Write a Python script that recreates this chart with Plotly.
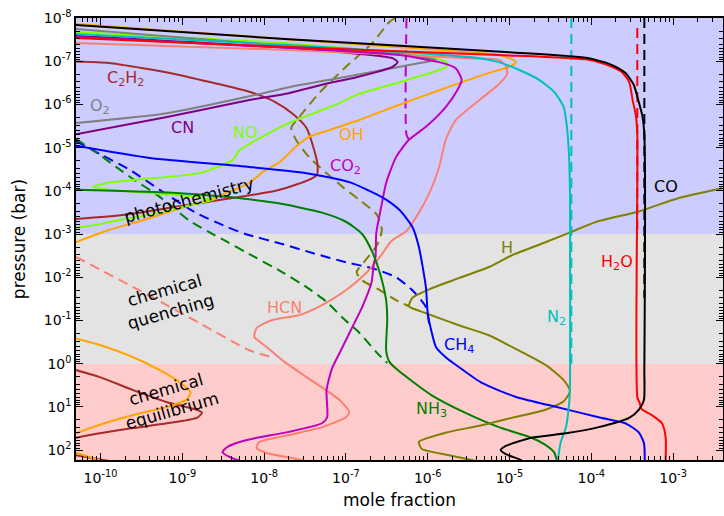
import numpy as np
import plotly.graph_objects as go

# ---------------- data (mole fraction, pressure in bar) ----------------
co_x = [5e-11, 2e-8, 1e-5, 9.3e-5, 1.8e-4, 2.6e-4, 3.3e-4, 3.8e-4, 4.2e-4, 4.45e-4, 4.45e-4,
        4.4e-4, 3.8e-4, 2.9e-4, 1.23e-4, 4.9e-5, 1.86e-5, 8.9e-6, 7.8e-6, 8.9e-6, 1.3e-5, 1.45e-5]
co_p = [1.45e-8, 3.1e-8, 6.2e-8, 8.5e-8, 1.23e-7, 1.86e-7, 3.5e-7, 8.7e-7, 1.8e-6, 5.1e-6, 1.41,
        6.9, 11.7, 18, 29.5, 41, 52, 81, 100, 123, 162, 180]
co_eq_x = [4.45e-4, 4.45e-4]
co_eq_p = [1e-8, 0.03]

h2o_x = [5e-11, 2e-8, 7.4e-6, 9.3e-5, 1.78e-4, 2.36e-4, 2.9e-4, 3.2e-4, 3.5e-4, 3.65e-4, 3.65e-4,
         3.9e-4, 4.1e-4, 5.5e-4, 7.3e-4, 8.1e-4, 8.1e-4]
h2o_p = [2.9e-8, 4.7e-8, 7.2e-8, 9.3e-8, 1.35e-7, 1.78e-7, 3.0e-7, 7.9e-7, 1.78e-6, 5.1e-6, 5.9,
         8.1, 11.2, 15.5, 24, 50, 180]
h2o_eq_x = [3.65e-4, 3.65e-4]
h2o_eq_p = [1.7e-8, 1e-3]

n2_x = [5e-11, 2e-8, 4.3e-6, 7.4e-6, 1.32e-5, 2.3e-5, 3.5e-5, 4.6e-5, 5.0e-5, 5.3e-5, 5.5e-5,
        5.5e-5, 5.5e-5, 5.4e-5, 4.9e-5, 4.2e-5, 3.9e-5]
n2_p = [2.35e-8, 4.2e-8, 8.5e-8, 1.05e-7, 1.6e-7, 2.7e-7, 5.1e-7, 1.15e-6, 3.0e-6, 1.15e-5, 1.6e-4,
        4e-3, 2.4, 6.9, 29.5, 69, 180]
n2_eq_x = [5.7e-5, 5.7e-5]
n2_eq_p = [1e-8, 1.0]

ch4_x = [5e-11, 4.0e-10, 6.6e-9, 3.3e-8, 1.1e-7, 2.75e-7, 4.5e-7, 6.5e-7, 7.8e-7, 9.5e-7, 1.0e-6,
         1.1e-6, 1.26e-6, 1.66e-6, 2.4e-6, 4.6e-6, 1.2e-5, 3.0e-5, 1.23e-4, 2.6e-4, 3.8e-4, 4.4e-4, 4.5e-4]
ch4_p = [9.1e-6, 1.74e-5, 2.8e-5, 3.9e-5, 6.3e-5, 1.4e-4, 2.75e-4, 6.9e-4, 2.0e-3, 0.017, 0.068,
         0.166, 0.41, 0.71, 1.2, 2.8, 5.9, 9.1, 17.4, 24, 39, 69, 180]
ch4_eq_x = [5e-11, 9.8e-11, 2.3e-10, 5.3e-10, 1.41e-9, 3.3e-9, 5.9e-9, 1.66e-8, 3.9e-8, 1.0e-7,
            2.1e-7, 4.1e-7, 6.5e-7, 9.5e-7, 1.05e-6]
ch4_eq_p = [7.1e-6, 1.4e-5, 3.3e-5, 9.5e-5, 3.1e-4, 6.5e-4, 1.0e-3, 1.7e-3, 2.75e-3, 4.5e-3,
            6.2e-3, 0.01, 0.02, 0.049, 0.14]

nh3_x = [5e-11, 8.3e-10, 3.4e-9, 1.38e-8, 5.1e-8, 1.0e-7, 1.58e-7, 2.1e-7, 2.6e-7, 3.1e-7, 3.2e-7,
         3.1e-7, 3.4e-7, 4.3e-7, 1.12e-6, 2.9e-6, 7.4e-6, 1.86e-5, 2.75e-5, 3.5e-5, 3.8e-5]
nh3_p = [9.5e-5, 1.12e-4, 1.38e-4, 1.9e-4, 3.2e-4, 5.2e-4, 1e-3, 2.6e-3, 8e-3, 0.034, 0.098,
         0.49, 0.91, 1.41, 5.4, 13.8, 29.5, 52, 76, 112, 175]
nh3_eq_x = [5e-11, 9.0e-11, 1.55e-10, 2.7e-10, 4.4e-10, 7.6e-10, 1.2e-9, 2.1e-9, 3.6e-9, 5.9e-9,
            1.66e-8, 3.3e-8, 5.8e-8, 9.1e-8, 1.45e-7, 2.35e-7, 3.2e-7]
nh3_eq_p = [6.3e-6, 1.32e-5, 2.8e-5, 5.9e-5, 1.07e-4, 2.35e-4, 4.8e-4, 8.9e-4, 1.55e-3, 2.6e-3,
            7.6e-3, 0.017, 0.037, 0.087, 0.19, 0.54, 0.97]

h_x = [4.0e-3, 1.15e-3, 3.8e-4, 1.12e-4, 5.7e-5, 2.75e-5, 1.07e-5, 5.6e-6, 2.4e-6, 1.12e-6, 6.5e-7,
       5.9e-7, 9.5e-7, 2.4e-6, 5.6e-6, 1.07e-5, 2.75e-5, 4.6e-5, 5.5e-5, 4.6e-5, 2.75e-5, 1.07e-5,
       4.3e-6, 1.82e-6, 7.8e-7, 8.5e-7, 1.82e-6, 3.7e-6]
h_p = [8.7e-5, 1.48e-4, 3.0e-4, 5.3e-4, 8.9e-4, 1.55e-3, 3.1e-3, 5.8e-3, 0.0105, 0.018, 0.030,
       0.047, 0.068, 0.129, 0.22, 0.41, 1.07, 2.4, 4.3, 7.4, 11.7, 18,
       27.5, 38, 65, 95, 132, 175]
h_eq_x = [4.0e-7, 3.4e-7, 2.1e-7, 1.0e-7, 4.7e-8, 2.7e-8, 2.15e-8, 2.45e-8, 3.55e-8, 5.8e-8, 9.1e-8,
          1.45e-7, 2.4e-7, 2.75e-7, 2.4e-7, 1.66e-7, 1.35e-7, 1.55e-7, 2.6e-7, 4.1e-7, 5.9e-7]
h_eq_p = [1e-8, 1.24e-8, 3.8e-8, 1.35e-7, 5.5e-7, 1.95e-6, 3.5e-6, 6.6e-6, 1.66e-5, 3.9e-5, 8.1e-5,
          1.6e-4, 3.6e-4, 8.1e-4, 1.8e-3, 4.5e-3, 7.6e-3, 0.0115, 0.02, 0.034, 0.047]

co2_x = [5e-11, 2e-8, 4.5e-7, 1.38e-6, 2.2e-6, 2.6e-6, 2.3e-6, 1.66e-6, 9.5e-7, 5.9e-7, 4.1e-7,
         3.1e-7, 2.7e-7, 2.35e-7, 2.3e-7, 2.2e-7, 2.05e-7, 1.58e-7, 1.15e-7, 8.7e-8, 6.8e-8, 5.8e-8,
         5.9e-8, 5.1e-8, 2.0e-8, 8.1e-9, 5.0e-9, 3.55e-9, 3.1e-9, 4.1e-9, 5.0e-9]
co2_p = [2.75e-8, 4.9e-8, 7.2e-8, 1.05e-7, 1.45e-7, 2.75e-7, 4.7e-7, 1.15e-6, 3.3e-6, 6.6e-6, 1.66e-5,
         6.6e-5, 2.35e-4, 9.5e-4, 3.4e-3, 4.7e-3, 0.0135, 0.049, 0.166, 0.49, 1.26, 4.1,
         17.4, 24, 38, 52, 65, 85, 112, 155, 175]
co2_eq_x = [5.5e-7, 5.5e-7, 5.9e-7]
co2_eq_p = [1e-8, 5e-6, 6.6e-6]

hcn_x = [5e-11, 2e-8, 3.2e-6, 7.4e-6, 9.1e-6, 9.3e-6, 7.4e-6, 4.3e-6, 2.2e-6, 1.66e-6, 1.38e-6,
         1.05e-6, 7.8e-7, 5.5e-7, 3.6e-7, 2.6e-7, 1.78e-7, 1.0e-7, 5.1e-8, 2.7e-8, 1.26e-8, 8.1e-9,
         7.6e-9, 1.07e-8, 1.66e-8, 3.3e-8, 8.3e-8, 1.1e-7, 1.0e-7, 5.1e-8, 2.0e-8, 8.7e-9, 8.1e-9,
         1.07e-8, 2.25e-8, 3.0e-8]
hcn_p = [3.8e-8, 5.5e-8, 8.5e-8, 9.3e-8, 1.3e-7, 2.0e-7, 3.4e-7, 7.9e-7, 2.3e-6, 6.6e-6, 2.8e-5,
         1.12e-4, 3.2e-4, 8.5e-4, 1.45e-3, 3.4e-3, 7.9e-3, 0.02, 0.044, 0.075, 0.098, 0.15,
         0.24, 0.41, 0.83, 2.05, 6.9, 13.2, 17.4, 29.5, 45, 65, 89,
         117, 155, 175]
hcn_eq_x = [5e-11, 4.0e-10, 1.62e-9, 6.6e-9, 1.35e-8]
hcn_eq_p = [3.4e-3, 0.027, 0.115, 0.49, 0.74]

c2h2_x = [5e-11, 1.26e-10, 3.3e-10, 8.3e-10, 2.1e-9, 6.6e-9, 1.35e-8, 2.25e-8, 3.3e-8, 4.1e-8, 4.5e-8,
          4.4e-8, 3.3e-8, 1.38e-8, 3.4e-9, 8.3e-10, 2.0e-10, 5e-11, None,
          5e-11, 9.8e-11, 2.5e-10, 6.5e-10, 1.5e-9, 1.74e-9, 1.5e-9, 6.5e-10, 2.5e-10, 9.8e-11, 5e-11, None,
          5e-11, 8.1e-11, 1.3e-10]
c2h2_p = [1.02e-7, 1.1e-7, 1.45e-7, 2.0e-7, 3.0e-7, 5.1e-7, 8.7e-7, 1.66e-6, 3.5e-6, 1.15e-5, 2.5e-5,
          4.3e-5, 5.9e-5, 1.0e-4, 1.55e-4, 2.35e-4, 3.6e-4, 4.5e-4, None,
          1.41, 2.05, 4.1, 7.8, 11.7, 13.8, 18, 24, 31, 41, 52, None,
          132, 155, 180]

o2_x = [5e-11, 2e-8, 4.5e-7, 1.26e-6, 8.0e-7, 3.4e-7, 8.3e-8, 2.0e-8, 6.6e-9, 6.5e-10, 5e-11]
o2_p = [1.8e-8, 4.5e-8, 6.8e-8, 9.3e-8, 1.1e-7, 1.5e-7, 2.45e-7, 4.0e-7, 6.5e-7, 1.6e-6, 2.7e-6]

cn_x = [5e-11, 2e-8, 2.6e-7, 3.7e-7, 4.3e-7, 3.7e-7, 1.35e-7, 5.1e-8, 2.0e-8, 6.6e-9, 6.5e-10, 5e-11]
cn_p = [2.6e-8, 4.9e-8, 7.6e-8, 8.5e-8, 1.05e-7, 1.35e-7, 2.35e-7, 3.5e-7, 5.5e-7, 7.9e-7, 1.95e-6, 4.9e-6]

no_x = [5e-11, 2.45e-8, 1.26e-6, 1.74e-6, 1.7e-6, 5.5e-7, 1.35e-7, 8.3e-8, 5.1e-8, 2.0e-8, 8.1e-9,
        5.0e-9, 4.1e-9, 1.62e-9, 2.5e-10, 1.2e-10, 8.1e-11, 1.3e-10, 4.0e-10, 1.23e-9, 2.45e-9,
        1.23e-9, 5.3e-10, 2.0e-10, 9.8e-11, 5e-11]
no_p = [2.1e-8, 4.0e-8, 8.5e-8, 1.1e-7, 1.35e-7, 2.75e-7, 6.0e-7, 9.3e-7, 1.35e-6, 2.7e-6, 6.6e-6,
        1.15e-5, 1.95e-5, 3.9e-5, 5.6e-5, 6.6e-5, 8.1e-5, 9.5e-5, 1.12e-4, 1.32e-4, 1.6e-4,
        2.15e-4, 3.2e-4, 4.5e-4, 5.9e-4, 7.3e-4]

oh_x = [5e-11, 2.45e-8, 4.3e-6, 7.4e-6, 1.0e-5, 1.2e-5, 1.0e-5, 7.4e-6, 5.6e-6, 1.38e-6, 4.5e-7,
        1.45e-7, 6.3e-8, 3.55e-8, 2.35e-8, 1.55e-8, 1.0e-8, 6.5e-9, 2.1e-9, 8.3e-10, 3.3e-10,
        1.26e-10, 5e-11, None,
        5e-11, 9.8e-11, 2.5e-10, 5.3e-10, 9.3e-10, 1.26e-9, 1.12e-9, 6.5e-10, 2.5e-10, 9.8e-11, 5e-11, None,
        5e-11, 1.0e-10]
oh_p = [1.38e-8, 3.2e-8, 6.5e-8, 7.2e-8, 8.5e-8, 1.05e-7, 1.35e-7, 1.6e-7, 1.86e-7, 4.7e-7, 1.02e-6,
        2.3e-6, 3.9e-6, 5.6e-6, 1.02e-5, 2.15e-5, 3.5e-5, 6.6e-5, 1.6e-4, 2.75e-4, 4.8e-4,
        8.1e-4, 1.55e-3, None,
        0.26, 0.37, 0.71, 1.41, 2.7, 4.6, 6.9, 10, 15.5, 26, 41, None,
        115, 175]

# species labels
label_text = ["C<sub>2</sub>H<sub>2</sub>", "O<sub>2</sub>", "CN", "NO", "OH", "CO<sub>2</sub>", "CO",
              "H", "H<sub>2</sub>O", "HCN", "N<sub>2</sub>", "CH<sub>4</sub>", "NH<sub>3</sub>"]
label_x = [2.0e-10, 9.8e-11, 1.0e-9, 5.9e-9, 1.17e-7, 1.0e-7, 8.3e-4, 9.3e-6, 2.05e-4, 1.78e-8,
           3.8e-5, 2.4e-6, 1.1e-6]
label_p = [2.5e-7, 1.1e-6, 3.5e-6, 4.4e-6, 5.1e-6, 2.8e-5, 7.8e-5, 2.1e-3, 4.5e-3, 0.051,
           0.087, 0.39, 11.7]

# regime bands (pressure limits)
band_edges = [1e-9, 1e-3, 1.0, 1e3]
band_colors = ["#ccccff", "#e3e3e3", "#ffcccc"]

x_tickvals = [1e-10, 1e-9, 1e-8, 1e-7, 1e-6, 1e-5, 1e-4, 1e-3]
x_ticktext = ["10<sup>-10</sup>", "10<sup>-9</sup>", "10<sup>-8</sup>", "10<sup>-7</sup>",
              "10<sup>-6</sup>", "10<sup>-5</sup>", "10<sup>-4</sup>", "10<sup>-3</sup>"]
y_tickvals = [1e-8, 1e-7, 1e-6, 1e-5, 1e-4, 1e-3, 1e-2, 1e-1, 1e0, 1e1, 1e2]
y_ticktext = ["10<sup>-8</sup>", "10<sup>-7</sup>", "10<sup>-6</sup>", "10<sup>-5</sup>",
              "10<sup>-4</sup>", "10<sup>-3</sup>", "10<sup>-2</sup>", "10<sup>-1</sup>",
              "10<sup>0</sup>", "10<sup>1</sup>", "10<sup>2</sup>"]

# ---------------- figure ----------------
FONT = "DejaVu Sans"
fig = go.Figure()

for i, col in enumerate(band_colors):
    lo, hi = band_edges[i], band_edges[i + 1]
    fig.add_trace(go.Scatter(x=[1e-13, 1, 1, 1e-13, 1e-13], y=[lo, lo, hi, hi, lo],
                             fill="toself", fillcolor=col, mode="lines",
                             line=dict(width=0, color=col), hoverinfo="skip"))

DASH = "10px,6px"
dashed = [
    (co_eq_x, co_eq_p, "black"),
    (h2o_eq_x, h2o_eq_p, "#ff0000"),
    (n2_eq_x, n2_eq_p, "#00bfbf"),
    (co2_eq_x, co2_eq_p, "#bf00bf"),
    (h_eq_x, h_eq_p, "#808000"),
    (ch4_eq_x, ch4_eq_p, "#0000ff"),
    (nh3_eq_x, nh3_eq_p, "#008000"),
    (hcn_eq_x, hcn_eq_p, "#fa8072"),
]
for xs, ps, col in dashed:
    fig.add_trace(go.Scatter(x=xs, y=ps, mode="lines",
                             line=dict(color=col, width=2, dash=DASH, shape="spline", smoothing=0.6),
                             hoverinfo="skip"))

solid = [
    (c2h2_x, c2h2_p, "#a52a2a"),
    (oh_x, oh_p, "#ffa500"),
    (no_x, no_p, "#7fff00"),
    (o2_x, o2_p, "#808080"),
    (cn_x, cn_p, "#800080"),
    (hcn_x, hcn_p, "#fa8072"),
    (co2_x, co2_p, "#bf00bf"),
    (nh3_x, nh3_p, "#008000"),
    (h_x, h_p, "#808000"),
    (ch4_x, ch4_p, "#0000ff"),
    (n2_x, n2_p, "#00bfbf"),
    (h2o_x, h2o_p, "#ff0000"),
    (co_x, co_p, "black"),
]
for xs, ps, col in solid:
    fig.add_trace(go.Scatter(x=xs, y=ps, mode="lines",
                             line=dict(color=col, width=2, shape="spline", smoothing=0.6),
                             hoverinfo="skip"))

label_colors = ["#a52a2a", "#808080", "#800080", "#7fff00", "#ffa500", "#bf00bf", "black",
                "#808000", "#ff0000", "#fa8072", "#00bfbf", "#0000ff", "#008000"]
for t, lx, lp, c in zip(label_text, label_x, label_p, label_colors):
    fig.add_annotation(x=np.log10(lx), y=np.log10(lp), text=t, showarrow=False,
                       font=dict(family=FONT, size=16, color=c), xanchor="center", yanchor="middle")

regimes = [("photochemistry", 1.2e-9, 1.6e-4, -15),
           ("chemical<br>quenching", 6.5e-10, 0.035, -16),
           ("chemical<br>equilibrium", 6.8e-10, 7.0, -16)]
for t, rx, rp, ang in regimes:
    fig.add_annotation(x=np.log10(rx), y=np.log10(rp), text=t, showarrow=False, textangle=ang,
                       font=dict(family=FONT, size=17, color="black"), align="center")

x_minor = [m * 10.0 ** e for e in range(-11, -2) for m in range(2, 10)]
y_minor = [m * 10.0 ** e for e in range(-9, 3) for m in range(2, 10)]

axis_common = dict(type="log", showline=True, linecolor="black", linewidth=1.5, mirror="allticks",
                   ticks="inside", ticklen=7, tickwidth=1, tickcolor="black", showgrid=False,
                   zeroline=False, automargin=False,
                   tickfont=dict(family=FONT, size=14, color="black"))
fig.update_xaxes(**axis_common, range=[-10.30, -2.39], tickmode="array",
                 tickvals=x_tickvals, ticktext=x_ticktext, ticklabelstandoff=4,
                 minor=dict(ticks="inside", ticklen=4, tickcolor="black", tickmode="array",
                            tickvals=x_minor, showgrid=False),
                 title=dict(text="mole fraction", font=dict(family=FONT, size=17), standoff=10))
fig.update_yaxes(**axis_common, range=[np.log10(170), -8.0], tickmode="array",
                 tickvals=y_tickvals, ticktext=y_ticktext,
                 minor=dict(ticks="inside", ticklen=4, tickcolor="black", tickmode="array",
                            tickvals=y_minor, showgrid=False),
                 title=dict(text="pressure (bar)", font=dict(family=FONT, size=17), standoff=14))

fig.update_layout(width=724, height=516, margin=dict(l=76, r=1, t=18, b=56),
                  plot_bgcolor="white", paper_bgcolor="white", showlegend=False,
                  font=dict(family=FONT, color="black"))

fig.write_html("out.html", config={"displayModeBar": False},
               post_script="document.body.style.margin='0px';document.body.style.overflow='hidden';")
